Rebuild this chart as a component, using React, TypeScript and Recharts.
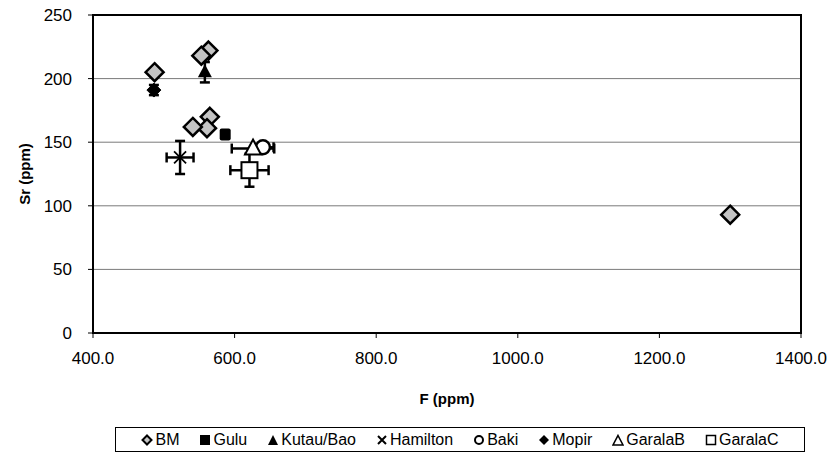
import {
  CartesianGrid,
  ErrorBar,
  Label,
  ReferenceArea,
  Scatter,
  ScatterChart,
  XAxis,
  YAxis,
} from "recharts";

// F (ppm) vs Sr (ppm), error values are +/- in data units
const bm = [
  { F: 487, Sr: 205 },
  { F: 563, Sr: 222 },
  { F: 553, Sr: 218 },
  { F: 565, Sr: 170 },
  { F: 561, Sr: 161 },
  { F: 541, Sr: 162 },
  { F: 1300, Sr: 93 },
];
const gulu = [{ F: 586, Sr: 156 }];
const kutauBao = [{ F: 558, Sr: 205, eSr: 8 }];
const hamilton = [{ F: 523, Sr: 138, eF: 19, eSr: 13 }];
const baki = [{ F: 640, Sr: 146, eF: 15 }];
const mopir = [{ F: 486, Sr: 191, eSr: 4 }];
const garalaB = [{ F: 626, Sr: 145, eF: 30 }];
const garalaC = [{ F: 621, Sr: 128, eF: 27, eSr: 13 }];

const xTicks = [400, 600, 800, 1000, 1200, 1400];
const yTicks = [0, 50, 100, 150, 200, 250];

const FONT = "'Liberation Sans', Arial, sans-serif";

const Diamond = ({ cx, cy, r, fill, sw }: any) => (
  <path
    d={`M${cx},${cy - r}L${cx + r},${cy}L${cx},${cy + r}L${cx - r},${cy}Z`}
    fill={fill}
    stroke="#000"
    strokeWidth={sw}
    strokeLinejoin="miter"
  />
);

const bmShape = (p: any) => <Diamond cx={p.cx} cy={p.cy} r={9} fill="#c4c4c4" sw={2.5} />;
const mopirShape = (p: any) => <Diamond cx={p.cx} cy={p.cy} r={7} fill="#000" sw={1} />;
const guluShape = (p: any) => (
  <rect x={p.cx - 5} y={p.cy - 6} width={11} height={12} rx={2} fill="#000" />
);
const kutauShape = (p: any) => (
  <path d={`M${p.cx},${p.cy - 8}L${p.cx + 7},${p.cy + 5}L${p.cx - 7},${p.cy + 5}Z`} fill="#000" />
);
const hamiltonShape = (p: any) => (
  <path
    d={`M${p.cx - 6},${p.cy - 6}L${p.cx + 6},${p.cy + 6}M${p.cx + 6},${p.cy - 6}L${p.cx - 6},${p.cy + 6}`}
    stroke="#000"
    strokeWidth={1.8}
  />
);
const bakiShape = (p: any) => (
  <circle cx={p.cx} cy={p.cy} r={7} fill="#fff" stroke="#000" strokeWidth={2.5} />
);
const garalaBShape = (p: any) => (
  <path
    d={`M${p.cx},${p.cy - 9}L${p.cx + 8},${p.cy + 6}L${p.cx - 8},${p.cy + 6}Z`}
    fill="#fff"
    stroke="#000"
    strokeWidth={2}
  />
);
const garalaCShape = (p: any) => (
  <rect x={p.cx - 8} y={p.cy - 8} width={16} height={16} fill="#fff" stroke="#000" strokeWidth={2} />
);

const legendItems: { name: string; icon: React.ReactNode }[] = [
  { name: "BM", icon: <path d="M6,1.5L10.5,6L6,10.5L1.5,6Z" fill="#c4c4c4" stroke="#000" strokeWidth={2} /> },
  { name: "Gulu", icon: <rect x={1} y={1} width={10} height={10} fill="#000" /> },
  { name: "Kutau/Bao", icon: <path d="M6,1L11,11L1,11Z" fill="#000" /> },
  { name: "Hamilton", icon: <path d="M2,2L10,10M10,2L2,10" stroke="#000" strokeWidth={2} /> },
  { name: "Baki", icon: <circle cx={6} cy={6} r={4} fill="#fff" stroke="#000" strokeWidth={2} /> },
  { name: "Mopir", icon: <path d="M6,1L11,6L6,11L1,6Z" fill="#000" /> },
  { name: "GaralaB", icon: <path d="M6,1.5L11,11L1,11Z" fill="#fff" stroke="#000" strokeWidth={1.6} /> },
  { name: "GaralaC", icon: <rect x={1.5} y={1.5} width={9} height={9} fill="#fff" stroke="#000" strokeWidth={1.5} /> },
];

const tickStyle = { fill: "#000", fontSize: 17, fontFamily: FONT };
const barProps = { stroke: "#000", strokeWidth: 2.5, width: 5 };

export default function App() {
  return (
    <div style={{ position: "absolute", left: 0, top: 0, width: 834, height: 456, background: "#fff" }}>
      <ScatterChart width={834} height={456} margin={{ top: 15, right: 33, bottom: 48, left: 0 }}>
        <CartesianGrid vertical={false} stroke="#7a7a7a" strokeWidth={1} />
        <XAxis
          type="number"
          dataKey="F"
          domain={[400, 1400]}
          ticks={xTicks}
          tickFormatter={(v: number) => v.toFixed(1)}
          tick={tickStyle}
          tickSize={5}
          tickMargin={14}
          height={75}
          axisLine={{ stroke: "#000", strokeWidth: 2 }}
          tickLine={{ stroke: "#000" }}
          allowDataOverflow
        >
          <Label
            value="F (ppm)"
            position="insideBottom"
            offset={4}
            style={{ fontWeight: "bold", fontSize: 15, fill: "#000", fontFamily: FONT }}
          />
        </XAxis>
        <YAxis
          type="number"
          dataKey="Sr"
          domain={[0, 250]}
          ticks={yTicks}
          tick={tickStyle}
          tickSize={5}
          tickMargin={16}
          width={93}
          axisLine={{ stroke: "#000", strokeWidth: 2 }}
          tickLine={{ stroke: "#000" }}
          allowDataOverflow
        >
          <Label
            value="Sr (ppm)"
            angle={-90}
            position="center"
            dx={-22}
            style={{ fontWeight: "bold", fontSize: 15, fill: "#000", fontFamily: FONT, textAnchor: "middle" }}
          />
        </YAxis>
        <ReferenceArea x1={400} x2={1400} y1={0} y2={250} fill="none" stroke="#000" strokeWidth={2} />
        <Scatter name="Gulu" data={gulu} shape={guluShape} isAnimationActive={false} />
        <Scatter name="Kutau/Bao" data={kutauBao} shape={kutauShape} isAnimationActive={false}>
          <ErrorBar dataKey="eSr" direction="y" {...barProps} />
        </Scatter>
        <Scatter name="Hamilton" data={hamilton} shape={hamiltonShape} isAnimationActive={false}>
          <ErrorBar dataKey="eF" direction="x" {...barProps} />
          <ErrorBar dataKey="eSr" direction="y" {...barProps} />
        </Scatter>
        <Scatter name="Mopir" data={mopir} shape={mopirShape} isAnimationActive={false}>
          <ErrorBar dataKey="eSr" direction="y" {...barProps} />
        </Scatter>
        <Scatter name="GaralaC" data={garalaC} shape={garalaCShape} isAnimationActive={false}>
          <ErrorBar dataKey="eF" direction="x" {...barProps} />
          <ErrorBar dataKey="eSr" direction="y" {...barProps} />
        </Scatter>
        <Scatter name="Baki" data={baki} shape={bakiShape} isAnimationActive={false}>
          <ErrorBar dataKey="eF" direction="x" {...barProps} />
        </Scatter>
        <Scatter name="GaralaB" data={garalaB} shape={garalaBShape} isAnimationActive={false}>
          <ErrorBar dataKey="eF" direction="x" {...barProps} />
        </Scatter>
        <Scatter name="BM" data={bm} shape={bmShape} isAnimationActive={false} />
      </ScatterChart>
      <div
        style={{
          position: "absolute",
          left: 115,
          top: 427,
          width: 690,
          height: 25,
          boxSizing: "border-box",
          border: "1px solid #000",
          display: "flex",
          alignItems: "center",
          justifyContent: "center",
          gap: 20,
          fontFamily: FONT,
          fontSize: 16,
          color: "#000",
        }}
      >
        {legendItems.map((it) => (
          <span key={it.name} style={{ display: "inline-flex", alignItems: "center", gap: 2 }}>
            <svg width={12} height={12}>{it.icon}</svg>
            {it.name}
          </span>
        ))}
      </div>
    </div>
  );
}
